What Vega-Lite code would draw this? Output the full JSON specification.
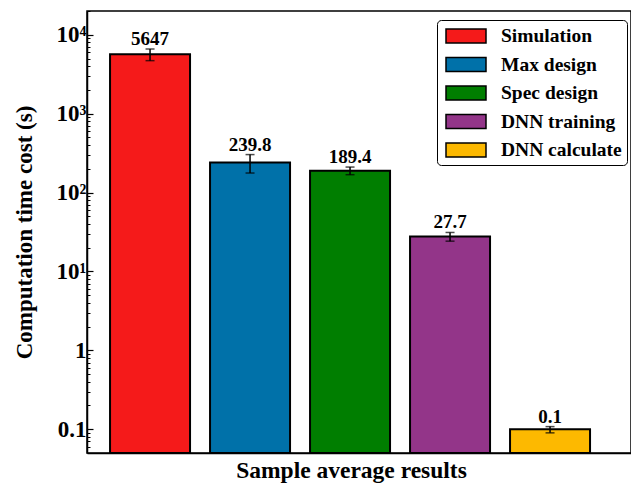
{
  "$schema": "https://vega.github.io/schema/vega-lite/v6.json",
  "autosize": "none",
  "padding": {"left": 87, "top": 11, "right": 0, "bottom": 31},
  "width": 544,
  "height": 442,
  "background": "white",
  "data": {
    "values": [
      {"method": "Simulation", "time": 5647, "label": "5647", "low": 4697, "high": 6597},
      {"method": "Max design", "time": 239.8, "label": "239.8", "low": 176.8, "high": 302.8},
      {"method": "Spec design", "time": 189.4, "label": "189.4", "low": 168.4, "high": 210.4},
      {"method": "DNN training", "time": 27.7, "label": "27.7", "low": 24.2, "high": 31.2},
      {"method": "DNN calculate", "time": 0.1, "label": "0.1", "low": 0.09, "high": 0.108}
    ]
  },
  "encoding": {
    "x": {
      "field": "method",
      "type": "nominal",
      "sort": null,
      "scale": {"paddingInner": 0.2, "paddingOuter": 0.32, "align": 0.36},
      "axis": {
        "title": "Sample average results",
        "labels": false,
        "ticks": false,
        "domainColor": "black",
        "domainWidth": 1.5,
        "titleFont": "Liberation Serif",
        "titleFontWeight": "bold",
        "titleFontSize": 23.5,
        "titleColor": "black",
        "titlePadding": 5,
        "titleX": 264
      }
    }
  },
  "layer": [
    {
      "mark": {"type": "bar", "stroke": "black", "strokeWidth": 2},
      "encoding": {
        "y": {
          "field": "time",
          "type": "quantitative",
          "scale": {"type": "log", "domain": [0.05, 20000], "nice": false},
          "axis": {
            "orient": "left",
            "values": [0.1, 1, 10, 100, 1000, 10000],
            "labelExpr": "datum.value < 0.5 ? '0.1' : datum.value < 5 ? '1' : datum.value < 50 ? '10¹' : datum.value < 500 ? '10²' : datum.value < 5000 ? '10³' : '10⁴'",
            "title": "Computation time cost (s)",
            "titleFont": "Liberation Serif",
            "titleFontWeight": "bold",
            "titleFontSize": 23,
            "titleColor": "black",
            "titlePadding": 20,
            "labelFont": "Liberation Serif",
            "labelFontWeight": "bold",
            "labelFontSize": 23,
            "labelColor": "black",
            "labelPadding": 7,
            "tickSize": -6,
            "tickColor": "black",
            "tickWidth": 1.2,
            "domainColor": "black",
            "domainWidth": 1.5,
            "grid": false
          }
        },
        "y2": {"datum": 0.05},
        "color": {
          "field": "method",
          "type": "nominal",
          "scale": {
            "domain": ["Simulation", "Max design", "Spec design", "DNN training", "DNN calculate"],
            "range": ["#F51A1A", "#0071A9", "#007E00", "#933589", "#FDB900"]
          },
          "legend": {
            "title": null,
            "orient": "none",
            "legendX": 350,
            "legendY": 9,
            "symbolType": "M-2,-0.7H2V0.7H-2Z",
            "symbolSize": 400,
            "symbolOffset": 13,
            "symbolStrokeColor": "black",
            "symbolStrokeWidth": 1.5,
            "symbolOpacity": 1,
            "labelFont": "Liberation Serif",
            "labelFontWeight": "bold",
            "labelFontSize": 19.5,
            "labelColor": "black",
            "labelOffset": 24,
            "rowPadding": 7.5,
            "padding": 5,
            "strokeColor": "black",
            "fillColor": "white",
            "cornerRadius": 4,
            "labelLimit": 300
          }
        }
      }
    },
    {
      "mark": {"type": "rule", "color": "black", "strokeWidth": 1.5},
      "encoding": {
        "y": {
          "field": "low",
          "type": "quantitative",
          "axis": {
            "orient": "left",
            "values": [0.06, 0.07, 0.08, 0.09, 0.2, 0.3, 0.4, 0.5, 0.6, 0.7, 0.8, 0.9, 2, 3, 4, 5, 6, 7, 8, 9, 20, 30, 40, 50, 60, 70, 80, 90, 200, 300, 400, 500, 600, 700, 800, 900, 2000, 3000, 4000, 5000, 6000, 7000, 8000, 9000, 20000],
            "labels": false,
            "title": null,
            "domain": false,
            "grid": false,
            "tickSize": -3,
            "tickColor": "black",
            "tickWidth": 1
          }
        },
        "y2": {"field": "high"}
      }
    },
    {
      "mark": {"type": "tick", "color": "black", "thickness": 1.5, "size": 9},
      "encoding": {"y": {"field": "low", "type": "quantitative", "axis": null}}
    },
    {
      "mark": {"type": "tick", "color": "black", "thickness": 1.5, "size": 9},
      "encoding": {"y": {"field": "high", "type": "quantitative", "axis": null}}
    },
    {
      "mark": {"type": "text", "font": "Liberation Serif", "fontWeight": "bold", "fontSize": 19, "color": "black", "baseline": "alphabetic", "dy": -4},
      "encoding": {
        "y": {"field": "high", "type": "quantitative", "axis": null},
        "text": {"field": "label"}
      }
    }
  ],
  "resolve": {"scale": {"y": "shared"}, "axis": {"y": "independent"}},
  "config": {
    "view": {"stroke": "black", "strokeWidth": 1.5}
  }
}
